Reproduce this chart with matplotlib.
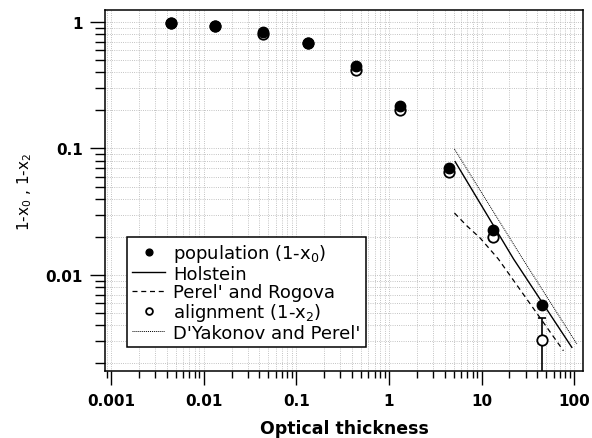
import numpy as np
import matplotlib
matplotlib.use('Agg')
import matplotlib.pyplot as plt
from matplotlib.ticker import LogLocator, FixedLocator, FixedFormatter, NullFormatter

# Measured points (optical thickness vs 1-x)
tau = [0.0044, 0.0133, 0.044, 0.133, 0.44, 1.33, 4.5, 13.3, 45.0]
pop = [0.982, 0.935, 0.829, 0.682, 0.447, 0.216, 0.0698, 0.0225, 0.00579]
align = [0.98, 0.93, 0.804, 0.68, 0.42, 0.203, 0.0648, 0.020, 0.00306]

# error bar on last alignment point
err_tau = [45.0]
err_val = [0.00306]
err_hi = [0.00457]
err_lo = [0.0010]

# Theory curves
holstein_x = [5.19, 22.2, 94.4]
holstein_y = [0.0787, 0.01337, 0.00268]
perel_x = [5.10, 6.93, 9.66, 15.2, 18.7, 76.6]
perel_y = [0.0309, 0.0245, 0.0196, 0.01337, 0.0108, 0.00252]
dyak_x = [5.10, 27.9, 107.0]
dyak_y = [0.0991, 0.01337, 0.00285]

fig = plt.figure(figsize=(5.92, 4.39), dpi=100)
ax = fig.add_axes([0.1774, 0.1526, 0.8076, 0.8224])

ax.plot(holstein_x, holstein_y, color='black', lw=1.0, ls='-', label='Holstein')
ax.plot(perel_x, perel_y, color='black', lw=0.9, ls=(0, (4, 3)), label="Perel' and Rogova")
ax.plot(dyak_x, dyak_y, color='black', lw=0.7, ls=(0, (1, 1)), label="D'Yakonov and Perel'")

yerr = [[err_val[0] - err_lo[0]], [err_hi[0] - err_val[0]]]
ax.errorbar(err_tau, err_val, yerr=yerr, fmt='none', ecolor='black', elinewidth=1.2,
            capsize=3, capthick=1.2, zorder=3)

ax.plot(tau, align, 'o', ms=7.5, mfc='white', mec='black', mew=1.3, ls='none',
        label='alignment (1-x$_2$)', zorder=4)
ax.plot(tau, pop, 'o', ms=7.5, mfc='black', mec='black', ls='none',
        label='population (1-x$_0$)', zorder=5)

ax.set_xscale('log')
ax.set_yscale('log')
ax.set_xlim(10 ** -3.065, 10 ** 2.097)
ax.set_ylim(10 ** -2.759, 10 ** 0.095)

xt = [0.001, 0.01, 0.1, 1, 10, 100]
xtl = ['0.001', '0.01', '0.1', '1', '10', '100']
yt = [0.01, 0.1, 1]
ytl = ['0.01', '0.1', '1']
ax.xaxis.set_major_locator(FixedLocator(xt))
ax.xaxis.set_major_formatter(FixedFormatter(xtl))
ax.yaxis.set_major_locator(FixedLocator(yt))
ax.yaxis.set_major_formatter(FixedFormatter(ytl))
ax.xaxis.set_minor_locator(LogLocator(base=10, subs=np.arange(2, 10), numticks=20))
ax.yaxis.set_minor_locator(LogLocator(base=10, subs=np.arange(2, 10), numticks=20))
ax.xaxis.set_minor_formatter(NullFormatter())
ax.yaxis.set_minor_formatter(NullFormatter())

for lab in ax.get_xticklabels() + ax.get_yticklabels():
    lab.set_fontweight('bold')
    lab.set_fontsize(11)

ax.tick_params(axis='x', which='major', direction='out', length=10, width=1.0, pad=6)
ax.tick_params(axis='x', which='minor', direction='out', length=5, width=1.0)
ax.tick_params(axis='y', which='major', direction='out', length=11, width=1.0, pad=5)
ax.tick_params(axis='y', which='minor', direction='out', length=7, width=1.0)

for sp in ax.spines.values():
    sp.set_linewidth(1.1)

ax.grid(True, which='both', color='#b0b0b0', ls=':', lw=0.6)
ax.set_axisbelow(True)

ax.set_xlabel('Optical thickness', fontsize=12.5, fontweight='bold', labelpad=8)
ax.set_ylabel('1-x$_0$ , 1-x$_2$', fontsize=11, labelpad=8)

handles, labels = ax.get_legend_handles_labels()
order = [labels.index(n) for n in ['population (1-x$_0$)', 'Holstein', "Perel' and Rogova",
                                   'alignment (1-x$_2$)', "D'Yakonov and Perel'"]]
leg = ax.legend([handles[i] for i in order], [labels[i] for i in order],
                loc='lower left', bbox_to_anchor=(0.046, 0.066), borderaxespad=0,
                fontsize=13, frameon=True, fancybox=False, edgecolor='black',
                framealpha=1, markerscale=0.65, handlelength=1.8, handletextpad=0.45,
                labelspacing=0.02, borderpad=0.3)
leg.get_frame().set_linewidth(1.1)

plt.savefig('out.png', dpi=100)
